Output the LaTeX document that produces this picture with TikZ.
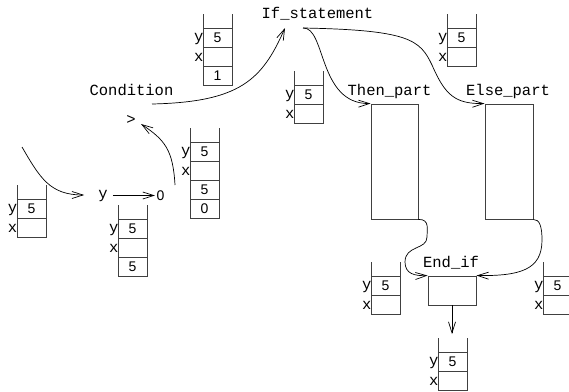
\documentclass[tikz,border=0pt]{standalone}
\usepackage{fontspec}
\setmainfont{Liberation Sans}
\setmonofont{Liberation Mono}
\usetikzlibrary{arrows.meta}
\tikzset{
  stkline/.style={draw=black!75, line width=0.9pt},
  boxline/.style={draw=black!75, line width=0.9pt},
  lbl/.style={font=\fontsize{15.5}{16}\selectfont\ttfamily, inner sep=0pt},
  num/.style={font=\fontsize{14}{15}\selectfont, inner sep=0pt},
  conn/.style={draw=black, line width=0.7pt, -{Straight Barb[length=11pt,width=7pt]}},
}
\newcommand\Stk[4]{%
  \draw[stkline] (#1,#2-14) -- (#1,#2) (#1+29,#2-14) -- (#1+29,#2);
  \foreach \c [count=\i] in {#3}{%
    \draw[stkline] (#1,#2+19*\i-19) rectangle (#1+29,#2+19*\i);
    \node[num] (#4c\i) at (#1+14.5,#2+19*\i-9.5) {\c};
  }
  \node[lbl,anchor=base east] (#4y) at (#1+0.5,#2+13) {y};
  \node[lbl,anchor=base east] (#4x) at (#1+0.5,#2+33.5) {x};
}
\begin{document}
\begin{tikzpicture}[x=1pt,y=-1pt]
\useasboundingbox (0,0) rectangle (569,391);

% stacks
\Stk{203}{28}{5,{},1}{sa}
\Stk{190}{142}{5,{},5,0}{sb}
\Stk{17}{199}{5,{}}{sc}
\Stk{118}{219}{5,{},5}{sd}
\Stk{294}{85}{5,{}}{se}
\Stk{447}{28}{5,{}}{sf}
\Stk{371}{276}{5,{}}{sg}
\Stk{543}{276}{5,{}}{sh}
\Stk{438}{352}{5,{}}{si}

% labels
\node[lbl,anchor=base] (ifst) at (317.5,18) {If\_statement};
\node[lbl,anchor=base] (cond) at (131.5,95) {Condition};
\node[lbl,anchor=base] (thenlbl) at (389.5,95) {Then\_part};
\node[lbl,anchor=base] (elselbl) at (508,95) {Else\_part};
\node[lbl,anchor=base] (endlbl) at (451,267) {End\_if};
\node[lbl] (gt) at (131,120) {>};
\node[lbl,anchor=base] (ylab) at (103,198.5) {y};
\node[num] (zero) at (160.5,195.5) {0};

% boxes
\node[boxline, minimum width=47pt, minimum height=115pt, inner sep=0pt] (then) at (394.5,161.5) {};
\node[boxline, minimum width=48pt, minimum height=115pt, inner sep=0pt] (else) at (509,161.5) {};
\node[boxline, minimum width=48pt, minimum height=29pt, inner sep=0pt] (endif) at (452,290.5) {};

% free ends
\coordinate (c1s) at (22,147);
\coordinate (c3s) at (175,185);
\coordinate (c4s) at (152,104);
\coordinate (downend) at (452,334);

% connectors
\draw[conn] (c1s) .. controls (40,178) and (50,195) .. ([shift={(-14,-3.5)}]ylab.base west);
\draw[conn, shorten <=5pt, shorten >=1.5pt] (ylab.east |- zero.west) -- (zero.west);
\draw[conn] (c3s) .. controls (173,150) and (165,140) .. ([shift={(10,4)}]gt.center);
\draw[conn] (c4s) .. controls (240,102) and (262,80) .. ([shift={(-32.5,10)}]ifst.base);
\draw[conn] ([shift={(-14.5,10)}]ifst.base) .. controls (326,27) and (318,104) .. (then.north west);
\draw[conn] ([shift={(-14.5,10)}]ifst.base) .. controls (410,30) and (420,40) .. (432,65)
   .. controls (445,95) and (455,104) .. (else.north west);
\draw[conn] (then.south east) .. controls (430,219) and (427,230) .. (427,237)
   .. controls (427,250) and (405,245) .. (405,262)
   .. controls (405,274) and (415,276) .. (endif.north west);
\draw[conn] (else.south east) .. controls (540,219) and (542,228) .. (542,240)
   .. controls (542,270) and (520,276) .. (endif.north east);
\draw[conn] (endif.south) -- (downend);
\end{tikzpicture}
\end{document}
